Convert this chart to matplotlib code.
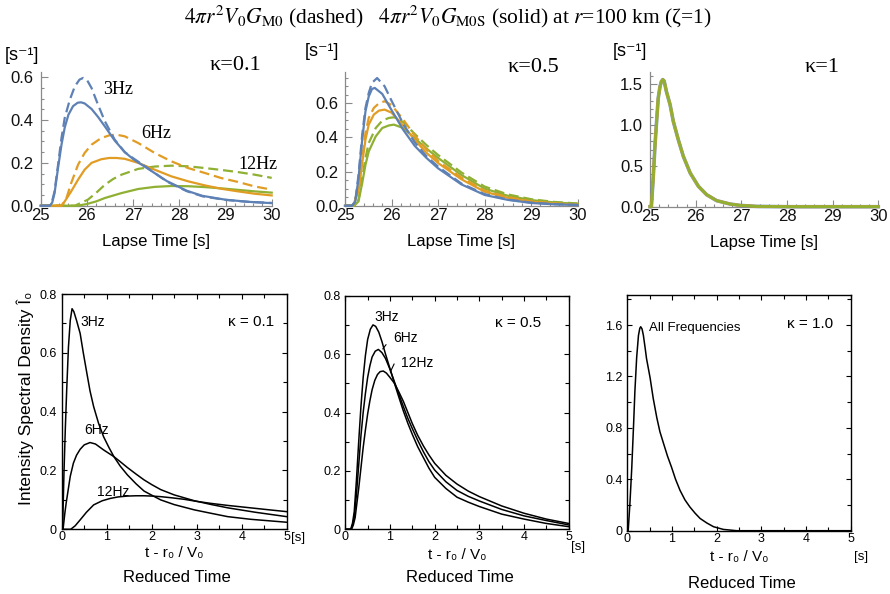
import matplotlib
matplotlib.use("Agg")
import matplotlib.pyplot as plt
from matplotlib.ticker import MultipleLocator

plt.rcParams["mathtext.fontset"] = "stix"
SANS = ["Liberation Sans", "DejaVu Sans"]
SERIF = ["Liberation Serif", "DejaVu Serif"]

# ======================= DATA =======================
# ---- top row: lapse time [s] ----
top_xticks = [25, 26, 27, 28, 29, 30]
top_xticklabels = ["25", "26", "27", "28", "29", "30"]
k01_yticks = [0.0, 0.2, 0.4, 0.6]
k01_yticklabels = ["0.0", "0.2", "0.4", "0.6"]
k05_yticks = [0.0, 0.2, 0.4, 0.6]
k05_yticklabels = ["0.0", "0.2", "0.4", "0.6"]
k1_yticks = [0.0, 0.5, 1.0, 1.5]
k1_yticklabels = ["0.0", "0.5", "1.0", "1.5"]

# kappa = 0.1
k01_3d_t = [25, 25.19, 25.24, 25.3, 25.375, 25.45, 25.52, 25.63, 25.74, 25.84, 25.92, 26.0, 26.1,
            26.24, 26.39, 26.6, 26.82, 27.0, 27.32, 27.73, 28.16, 28.5, 29.0, 29.5, 30]
k01_3d_y = [0, 0, 0.015, 0.067, 0.19, 0.316, 0.41, 0.495, 0.558, 0.589, 0.597, 0.588, 0.55,
            0.472, 0.394, 0.309, 0.25, 0.222, 0.175, 0.113, 0.068, 0.044, 0.027, 0.018, 0.013]
k01_3s_t = [25, 25.2, 25.25, 25.3, 25.375, 25.45, 25.52, 25.6, 25.7, 25.8, 25.87, 25.95, 26.1,
            26.24, 26.39, 26.6, 26.82, 27.0, 27.32, 27.73, 28.16, 28.5, 29.0, 29.5, 30]
k01_3s_y = [0, 0, 0.015, 0.059, 0.176, 0.285, 0.365, 0.425, 0.465, 0.481, 0.483, 0.478, 0.452,
            0.415, 0.37, 0.305, 0.25, 0.218, 0.173, 0.115, 0.07, 0.046, 0.028, 0.018, 0.012]
k01_6d_t = [25, 25.45, 25.55, 25.66, 25.81, 25.95, 26.1, 26.31, 26.49, 26.64, 26.82, 27.11, 27.47,
            27.83, 28.19, 28.55, 28.91, 29.27, 29.63, 30]
k01_6d_y = [0, 0, 0.03, 0.106, 0.192, 0.246, 0.285, 0.316, 0.329, 0.332, 0.324, 0.293, 0.246,
            0.207, 0.176, 0.153, 0.129, 0.111, 0.09, 0.075]
k01_6s_t = [25, 25.45, 25.52, 25.66, 25.81, 25.95, 26.1, 26.31, 26.48, 26.64, 26.82, 27.11, 27.47,
            27.83, 28.19, 28.55, 28.91, 29.27, 29.63, 30]
k01_6s_y = [0, 0, 0.02, 0.067, 0.122, 0.168, 0.2, 0.217, 0.223, 0.223, 0.219, 0.2, 0.168,
            0.137, 0.114, 0.095, 0.079, 0.067, 0.056, 0.048]
k01_12d_t = [25, 25.74, 26.02, 26.2, 26.39, 26.57, 26.75, 27.11, 27.47, 27.83, 28.19, 28.55,
             28.91, 29.27, 29.63, 30]
k01_12d_y = [0, 0, 0.028, 0.06, 0.098, 0.125, 0.145, 0.172, 0.183, 0.187, 0.184, 0.176,
             0.167, 0.157, 0.145, 0.13]
k01_12s_t = [25, 25.8, 26.0, 26.2, 26.39, 26.75, 27.11, 27.47, 27.83, 28.19, 28.55, 28.91,
             29.27, 29.63, 30]
k01_12s_y = [0, 0, 0.008, 0.02, 0.036, 0.059, 0.078, 0.088, 0.092, 0.091, 0.087, 0.081,
             0.074, 0.067, 0.061]

# kappa = 0.5
k05_3d_t = [25, 25.15, 25.22, 25.29, 25.37, 25.44, 25.51, 25.58, 25.69, 25.85, 26.0, 26.25,
            26.5, 26.75, 27.0, 27.5, 28.0, 28.5, 29.0, 29.5, 30]
k05_3d_y = [0, 0, 0.025, 0.18, 0.416, 0.573, 0.66, 0.72, 0.748, 0.70, 0.615, 0.48,
            0.37, 0.29, 0.229, 0.13, 0.068, 0.036, 0.018, 0.009, 0.005]
k05_3s_t = [25, 25.15, 25.22, 25.29, 25.37, 25.44, 25.51, 25.58, 25.64, 25.8, 26.0, 26.25,
            26.5, 26.75, 27.0, 27.5, 28.0, 28.5, 29.0, 29.5, 30]
k05_3s_y = [0, 0, 0.022, 0.16, 0.387, 0.553, 0.64, 0.684, 0.69, 0.655, 0.56, 0.445,
            0.35, 0.28, 0.219, 0.125, 0.063, 0.034, 0.016, 0.008, 0.004]
k05_6_t = [25, 25.17, 25.29, 25.37, 25.44, 25.51, 25.62, 25.73, 25.85, 26.0, 26.25, 26.5,
           26.75, 27.0, 27.5, 28.0, 28.5, 29.0, 29.5, 30]
k05_6d_y = [0, 0, 0.10, 0.28, 0.426, 0.514, 0.573, 0.60, 0.612, 0.59, 0.505, 0.41,
            0.33, 0.262, 0.165, 0.088, 0.05, 0.026, 0.014, 0.007]
k05_6s_y = [0, 0, 0.084, 0.25, 0.387, 0.475, 0.534, 0.557, 0.563, 0.545, 0.47, 0.385,
            0.31, 0.25, 0.155, 0.082, 0.046, 0.023, 0.012, 0.006]
k05_12_t = [25, 25.2, 25.29, 25.37, 25.44, 25.51, 25.66, 25.80, 25.94, 26.05, 26.25, 26.5,
            26.75, 27.0, 27.5, 28.0, 28.5, 29.0, 29.5, 30]
k05_12d_y = [0, 0, 0.035, 0.162, 0.28, 0.367, 0.455, 0.498, 0.514, 0.518, 0.49, 0.42,
             0.355, 0.297, 0.195, 0.112, 0.066, 0.038, 0.022, 0.013]
k05_12s_y = [0, 0, 0.025, 0.133, 0.24, 0.318, 0.406, 0.455, 0.47, 0.475, 0.455, 0.395,
             0.335, 0.28, 0.18, 0.10, 0.058, 0.033, 0.019, 0.011]

# kappa = 1 (all frequencies coincide)
k1_t = [25, 25.03, 25.07, 25.11, 25.15, 25.18, 25.22, 25.25, 25.28, 25.31, 25.36, 25.44, 25.51,
        25.62, 25.73, 25.88, 26.06, 26.24, 26.46, 26.75, 26.97, 27.34, 28, 30]
k1_y = [0, 0, 0.35, 0.76, 1.09, 1.33, 1.475, 1.535, 1.557, 1.54, 1.41, 1.25, 1.046,
        0.82, 0.617, 0.413, 0.25, 0.147, 0.074, 0.033, 0.016, 0.004, 0, 0]

# ---- bottom row: reduced time [s] ----
bot_xticks = [0, 1, 2, 3, 4, 5]
bot_xticklabels = ["0", "1", "2", "3", "4", "5"]
b01_yticks = [0, 0.2, 0.4, 0.6, 0.8]
b01_yticklabels = ["0", "0.2", "0.4", "0.6", "0.8"]
b1_yticks = [0, 0.4, 0.8, 1.2, 1.6]
b1_yticklabels = ["0", "0.4", "0.8", "1.2", "1.6"]

# kappa = 0.1
b01_3_t = [0, 0.02, 0.05, 0.08, 0.11, 0.15, 0.19, 0.23, 0.27, 0.33, 0.41, 0.48, 0.56, 0.63,
           0.71, 0.82, 0.93, 1.05, 1.16, 1.3, 1.46, 1.65, 1.83, 2.0, 2.2, 2.5, 2.95, 3.3,
           3.69, 4.2, 5]
b01_3_y = [0, 0.0, 0.19, 0.34, 0.47, 0.62, 0.71, 0.75, 0.74, 0.71, 0.666, 0.60, 0.53, 0.47,
           0.417, 0.36, 0.315, 0.278, 0.247, 0.215, 0.185, 0.155, 0.13, 0.116, 0.1, 0.084,
           0.066, 0.055, 0.043, 0.034, 0.024]
b01_6_t = [0, 0.03, 0.07, 0.1, 0.15, 0.19, 0.26, 0.33, 0.41, 0.5, 0.63, 0.75, 0.93, 1.05,
           1.16, 1.3, 1.46, 1.65, 1.83, 2.0, 2.2, 2.5, 2.95, 3.3, 3.69, 4.3, 5]
b01_6_y = [0, 0, 0.055, 0.09, 0.14, 0.18, 0.225, 0.252, 0.272, 0.287, 0.295, 0.29, 0.27,
           0.258, 0.247, 0.23, 0.21, 0.188, 0.168, 0.152, 0.135, 0.117, 0.097, 0.085,
           0.073, 0.058, 0.043]
b01_12_t = [0, 0.2, 0.3, 0.41, 0.55, 0.71, 0.9, 1.08, 1.25, 1.46, 1.65, 1.83, 2.0, 2.2,
            2.45, 2.72, 3.0, 3.32, 3.7, 4.07, 4.5, 5]
b01_12_y = [0, 0, 0.012, 0.032, 0.058, 0.083, 0.097, 0.105, 0.11, 0.113, 0.114, 0.114,
            0.113, 0.111, 0.107, 0.102, 0.095, 0.088, 0.081, 0.075, 0.068, 0.06]

# kappa = 0.5
b05_3_t = [0, 0.12, 0.16, 0.2, 0.25, 0.3, 0.35, 0.4, 0.45, 0.5, 0.56, 0.62, 0.68, 0.75,
           0.82, 0.9, 1.0, 1.1, 1.2, 1.3, 1.4, 1.5, 1.62, 1.75, 1.87, 2.0, 2.25, 2.5,
           2.75, 3.0, 3.5, 4.0, 4.5, 5.0]
b05_3_y = [0, 0, 0.02, 0.06, 0.17, 0.30, 0.42, 0.52, 0.595, 0.65, 0.685, 0.70, 0.695,
           0.675, 0.643, 0.60, 0.55, 0.50, 0.452, 0.405, 0.363, 0.325, 0.283, 0.245,
           0.21, 0.178, 0.14, 0.11, 0.093, 0.078, 0.052, 0.035, 0.02, 0.009]
b05_6_t = [0, 0.13, 0.17, 0.2, 0.25, 0.3, 0.35, 0.4, 0.45, 0.5, 0.55, 0.6, 0.67, 0.74,
           0.82, 0.9, 1.0, 1.1, 1.2, 1.3, 1.4, 1.5, 1.62, 1.75, 1.87, 2.0, 2.25, 2.5,
           2.75, 3.0, 3.5, 4.0, 4.5, 5.0]
b05_6_y = [0, 0, 0.02, 0.04, 0.12, 0.22, 0.32, 0.40, 0.465, 0.52, 0.56, 0.59, 0.61,
           0.616, 0.605, 0.585, 0.548, 0.505, 0.462, 0.42, 0.38, 0.345, 0.305, 0.265,
           0.232, 0.203, 0.163, 0.133, 0.113, 0.097, 0.068, 0.046, 0.03, 0.015]
b05_12_t = [0, 0.14, 0.18, 0.22, 0.26, 0.3, 0.35, 0.4, 0.45, 0.5, 0.55, 0.6, 0.66, 0.72,
            0.78, 0.85, 0.92, 1.0, 1.1, 1.2, 1.3, 1.4, 1.5, 1.62, 1.75, 1.87, 2.0, 2.25,
            2.5, 2.75, 3.0, 3.5, 4.0, 4.5, 5.0]
b05_12_y = [0, 0, 0.015, 0.04, 0.09, 0.14, 0.21, 0.28, 0.34, 0.395, 0.44, 0.478, 0.51,
            0.53, 0.54, 0.542, 0.535, 0.52, 0.50, 0.47, 0.438, 0.40, 0.362, 0.322, 0.285,
            0.255, 0.226, 0.185, 0.155, 0.131, 0.112, 0.08, 0.055, 0.035, 0.02]

# kappa = 1.0
b1_t = [0, 0.02, 0.06, 0.1, 0.14, 0.17, 0.21, 0.25, 0.28, 0.3, 0.33, 0.36, 0.4, 0.43, 0.47,
        0.51, 0.58, 0.66, 0.73, 0.81, 0.9, 0.99, 1.08, 1.18, 1.29, 1.4, 1.52, 1.63, 1.78,
        1.93, 2.15, 2.45, 5]
b1_y = [0, 0, 0.22, 0.49, 0.82, 1.085, 1.35, 1.52, 1.575, 1.587, 1.57, 1.52, 1.42, 1.34,
        1.265, 1.19, 1.03, 0.88, 0.77, 0.68, 0.58, 0.494, 0.40, 0.314, 0.24, 0.185, 0.135,
        0.095, 0.06, 0.031, 0.01, 0.0, 0]

# ======================= FIGURE =======================
W, H = 890, 594
fig = plt.figure(figsize=(W / 100, H / 100), dpi=100)

BLUE, ORANGE, GREEN = "#5E81B5", "#E19C24", "#8FB032"


def rect(l, t, r, b):
    return [l / W, 1 - b / H, (r - l) / W, (b - t) / H]


def ftext(x, y, s, **kw):
    kw.setdefault("ha", "center")
    kw.setdefault("va", "center")
    fig.text(x / W, 1 - y / H, s, **kw)


def style_top(ax, ymax, yticks, ylabels, yminor):
    ax.set_xlim(25, 30)
    ax.set_ylim(0, ymax)
    ax.patch.set_alpha(0)
    for s in ["top", "right"]:
        ax.spines[s].set_visible(False)
    for s in ["left", "bottom"]:
        ax.spines[s].set_color("#8a8a8a")
        ax.spines[s].set_linewidth(0.9)
    ax.set_xticks(top_xticks)
    ax.set_xticklabels(top_xticklabels)
    ax.xaxis.set_minor_locator(MultipleLocator(0.2))
    ax.set_yticks(yticks)
    ax.set_yticklabels(ylabels)
    ax.yaxis.set_minor_locator(MultipleLocator(yminor))
    ax.tick_params(which="both", direction="in", color="#8a8a8a", width=0.8)
    ax.tick_params(which="major", length=5)
    ax.tick_params(which="minor", length=2.5)
    ax.tick_params(axis="x", pad=1.5)
    ax.tick_params(axis="y", pad=5)
    ax.tick_params(labelsize=12, labelcolor="#111111")
    for lab in ax.get_xticklabels() + ax.get_yticklabels():
        lab.set_family(SANS)
    ax.set_xlabel("Lapse Time [s]", fontsize=12, family=SANS, labelpad=8)


def style_bot(ax, ymax, yticks, ylabels, yminor):
    ax.set_xlim(0, 5)
    ax.set_ylim(0, ymax)
    for s in ax.spines.values():
        s.set_color("black")
        s.set_linewidth(1.0)
    ax.set_xticks(bot_xticks)
    ax.set_xticklabels(bot_xticklabels)
    ax.xaxis.set_minor_locator(MultipleLocator(0.5))
    ax.set_yticks(yticks)
    ax.set_yticklabels(ylabels)
    ax.yaxis.set_minor_locator(MultipleLocator(yminor))
    ax.tick_params(which="both", direction="in", top=True, right=True, width=0.8)
    ax.tick_params(which="major", length=3.5)
    ax.tick_params(which="minor", length=3)
    ax.tick_params(axis="x", pad=1.5)
    ax.tick_params(axis="y", pad=3.5)
    ax.tick_params(labelsize=9)
    for lab in ax.get_xticklabels() + ax.get_yticklabels():
        lab.set_family(SANS)


TLW = 1.6
DASH = (4.5, 2.2)

# ---- top-left, kappa 0.1 ----
ax1 = fig.add_axes(rect(40.7, 71.7, 271.7, 205.7))
style_top(ax1, 0.626, k01_yticks, k01_yticklabels, 0.05)
for t, y, c, d in [(k01_12s_t, k01_12s_y, GREEN, False), (k01_12d_t, k01_12d_y, GREEN, True),
                   (k01_6s_t, k01_6s_y, ORANGE, False), (k01_6d_t, k01_6d_y, ORANGE, True),
                   (k01_3s_t, k01_3s_y, BLUE, False), (k01_3d_t, k01_3d_y, BLUE, True)]:
    ln, = ax1.plot(t, y, color=c, lw=TLW, clip_on=False, zorder=3)
    if d:
        ln.set_dashes(DASH)

# ---- top-middle, kappa 0.5 ----
ax2 = fig.add_axes(rect(345, 71.7, 577.7, 205.7))
style_top(ax2, 0.785, k05_yticks, k05_yticklabels, 0.05)
for t, y, c, d in [(k05_12_t, k05_12s_y, GREEN, False), (k05_12_t, k05_12d_y, GREEN, True),
                   (k05_6_t, k05_6s_y, ORANGE, False), (k05_6_t, k05_6d_y, ORANGE, True),
                   (k05_3s_t, k05_3s_y, BLUE, False), (k05_3d_t, k05_3d_y, BLUE, True)]:
    ln, = ax2.plot(t, y, color=c, lw=TLW, clip_on=False, zorder=3)
    if d:
        ln.set_dashes(DASH)

# ---- top-right, kappa 1 ----
ax3 = fig.add_axes(rect(650, 71.7, 878.3, 206.7))
style_top(ax3, 1.654, k1_yticks, k1_yticklabels, 0.1)
ax3.plot(k1_t, k1_y, color=BLUE, lw=2.6, clip_on=False, zorder=3, alpha=0.8)
ax3.plot(k1_t, k1_y, color=ORANGE, lw=2.1, clip_on=False, zorder=3)
ax3.plot(k1_t, k1_y, color=GREEN, lw=1.9, clip_on=False, zorder=3)

# ---- bottom-left ----
ax4 = fig.add_axes(rect(61.7, 294, 286.7, 529.3))
style_bot(ax4, 0.8, b01_yticks, b01_yticklabels, 0.1)
for t, y in [(b01_3_t, b01_3_y), (b01_6_t, b01_6_y), (b01_12_t, b01_12_y)]:
    ax4.plot(t, y, color="black", lw=1.1)

# ---- bottom-middle ----
ax5 = fig.add_axes(rect(345.3, 295.7, 568.7, 529.3))
style_bot(ax5, 0.8, b01_yticks, b01_yticklabels, 0.1)
for t, y in [(b05_3_t, b05_3_y), (b05_6_t, b05_6_y), (b05_12_t, b05_12_y)]:
    ax5.plot(t, y, color="black", lw=1.1)
ax5.annotate("", xy=(0.8, 0.61), xytext=(0.95, 0.64),
             arrowprops=dict(arrowstyle="-", color="black", lw=0.8))
ax5.annotate("", xy=(0.98, 0.53), xytext=(1.12, 0.575),
             arrowprops=dict(arrowstyle="-", color="black", lw=0.8))

# ---- bottom-right ----
ax6 = fig.add_axes(rect(627.3, 295, 850.7, 530.7))
style_bot(ax6, 1.834, b1_yticks, b1_yticklabels, 0.2)
ax6.plot(b1_t, b1_y, color="black", lw=1.1)

# ======================= TEXT =======================
ftext(448, 17, r"$4\pi r^2 V_0 G_{\mathrm{M0}}$ (dashed)   $4\pi r^2 V_0 G_{\mathrm{M0S}}$ (solid) at $r$=100 km (ζ=1)",
      fontsize=15.5, family=SERIF)

for x, y in [(22, 55), (322, 52), (630, 51)]:
    ftext(x, y, "[s⁻¹]", fontsize=13, family=SANS)

ftext(235, 66, "κ=0.1", fontsize=16, family=SERIF)
ftext(533, 67, "κ=0.5", fontsize=16, family=SERIF)
ftext(822, 67, "κ=1", fontsize=16, family=SERIF)
ftext(118, 90, "3Hz", fontsize=13, family=SERIF)
ftext(156, 134, "6Hz", fontsize=13, family=SERIF)
ftext(258, 164, "12Hz", fontsize=13, family=SERIF)

# bottom panels
ftext(92.5, 322, "3Hz", fontsize=10, family=SANS)
ftext(97, 430, "6Hz", fontsize=10, family=SANS)
ftext(113, 492, "12Hz", fontsize=10, family=SANS)
ftext(251, 322, "κ = 0.1", fontsize=11, family=SANS)

ftext(387, 317, "3Hz", fontsize=10, family=SANS)
ftext(406, 338, "6Hz", fontsize=10, family=SANS)
ftext(417, 363, "12Hz", fontsize=10, family=SANS)
ftext(518, 323, "κ = 0.5", fontsize=11, family=SANS)

ftext(695, 328, "All Frequencies", fontsize=9.5, family=SANS)
ftext(810, 324, "κ = 1.0", fontsize=11, family=SANS)

ftext(25, 398, "Intensity Spectral Density Î₀", fontsize=12.5, family=SANS, rotation=90)

for cx, y1, y2, sx, sy in [(174, 553, 578, 298, 538), (457, 555, 577, 578, 547),
                           (739, 557, 583, 861, 557)]:
    ftext(cx, y1, "t - r₀ / V₀", fontsize=11, family=SANS)
    ftext(cx + 3, y2, "Reduced Time", fontsize=12, family=SANS)
    ftext(sx, sy, "[s]", fontsize=9.5, family=SANS)

fig.savefig("out.png", dpi=100)
